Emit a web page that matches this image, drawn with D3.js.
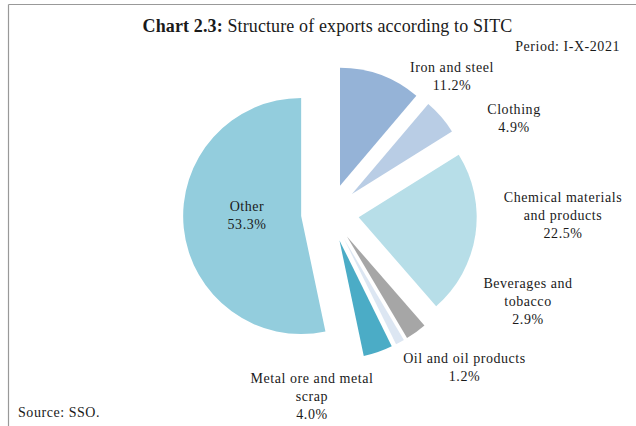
<!DOCTYPE html>
<html>
<head>
<meta charset="utf-8">
<script src="https://cdn.jsdelivr.net/npm/d3@7"></script>
<style>
  html, body { margin: 0; padding: 0; background: #fff; }
  svg { display: block; }
  text { font-family: "Liberation Serif", "DejaVu Serif", serif; fill: #1a1a1a; }
</style>
</head>
<body>
<svg id="chart" width="636" height="426"></svg>
<script>
// ---- data ----
const categories = ["Iron and steel", "Clothing", "Chemical materials and products",
  "Beverages and tobacco", "Oil and oil products", "Metal ore and metal scrap", "Other"];
const values = [11.2, 4.9, 22.5, 2.9, 1.2, 4.0, 53.3];
const labelLines = [["Iron and steel"], ["Clothing"], ["Chemical materials", "and products"],
  ["Beverages and", "tobacco"], ["Oil and oil products"], ["Metal ore and metal", "scrap"], ["Other"]];
const titleBold = "Chart 2.3:";
const titleRest = " Structure of exports according to SITC";
const periodText = "Period: I-X-2021";
const sourceText = "Source: SSO.";

// ---- layout / style ----
const colors = ["#95b3d7", "#b9cde5", "#b7dee8", "#a6a6a6", "#dce6f2", "#4bacc6", "#93cddd"];
const cx = 330, cy = 213, radius = 118, explode = 29;
const labelAnchors = [[452, 72], [514, 114], [563, 202], [528, 288], [464.5, 363], [312, 383], [247, 211]];
const lineH = 17.8;
const fontSize = 14;
const labelSpacing = "0.55px";

const svg = d3.select("#chart");

// frame
svg.append("line").attr("x1", 8.5).attr("x2", 636).attr("y1", 4.5).attr("y2", 4.5)
  .attr("stroke", "#999").attr("stroke-width", 1.2);
svg.append("line").attr("x1", 8.5).attr("x2", 8.5).attr("y1", 4.5).attr("y2", 426)
  .attr("stroke", "#999").attr("stroke-width", 1.2);

// title
const title = svg.append("text").attr("x", 327.5).attr("y", 31.5)
  .attr("text-anchor", "middle").style("font-size", "18px").style("letter-spacing", "0.12px");
title.append("tspan").attr("font-weight", "bold").text(titleBold);
title.append("tspan").text(titleRest);

svg.append("text").attr("x", 620).attr("y", 51).attr("text-anchor", "end")
  .style("font-size", fontSize + "px").style("letter-spacing", labelSpacing).text(periodText);
svg.append("text").attr("x", 18).attr("y", 417)
  .style("font-size", fontSize + "px").style("letter-spacing", labelSpacing).text(sourceText);

// pie
const pie = d3.pie().sort(null).value(d => d).startAngle(0).endAngle(2 * Math.PI);
const arcs = pie(values);
const arc = d3.arc().innerRadius(0).outerRadius(radius);

const g = svg.append("g").attr("transform", `translate(${cx},${cy})`);
g.selectAll("path").data(arcs).join("path")
  .attr("d", arc)
  .attr("fill", (d, i) => colors[i])
  .attr("transform", d => {
    const a = (d.startAngle + d.endAngle) / 2;
    return `translate(${explode * Math.sin(a)},${-explode * Math.cos(a)})`;
  });

// labels
arcs.forEach((d, i) => {
  const [lx, ly] = labelAnchors[i];
  const t = svg.append("text").attr("text-anchor", "middle")
    .style("font-size", fontSize + "px").style("letter-spacing", labelSpacing);
  const lines = labelLines[i].concat([values[i].toFixed(1) + "%"]);
  lines.forEach((ln, k) => {
    t.append("tspan").attr("x", lx).attr("y", ly + k * lineH).text(ln);
  });
});
</script>
</body>
</html>
